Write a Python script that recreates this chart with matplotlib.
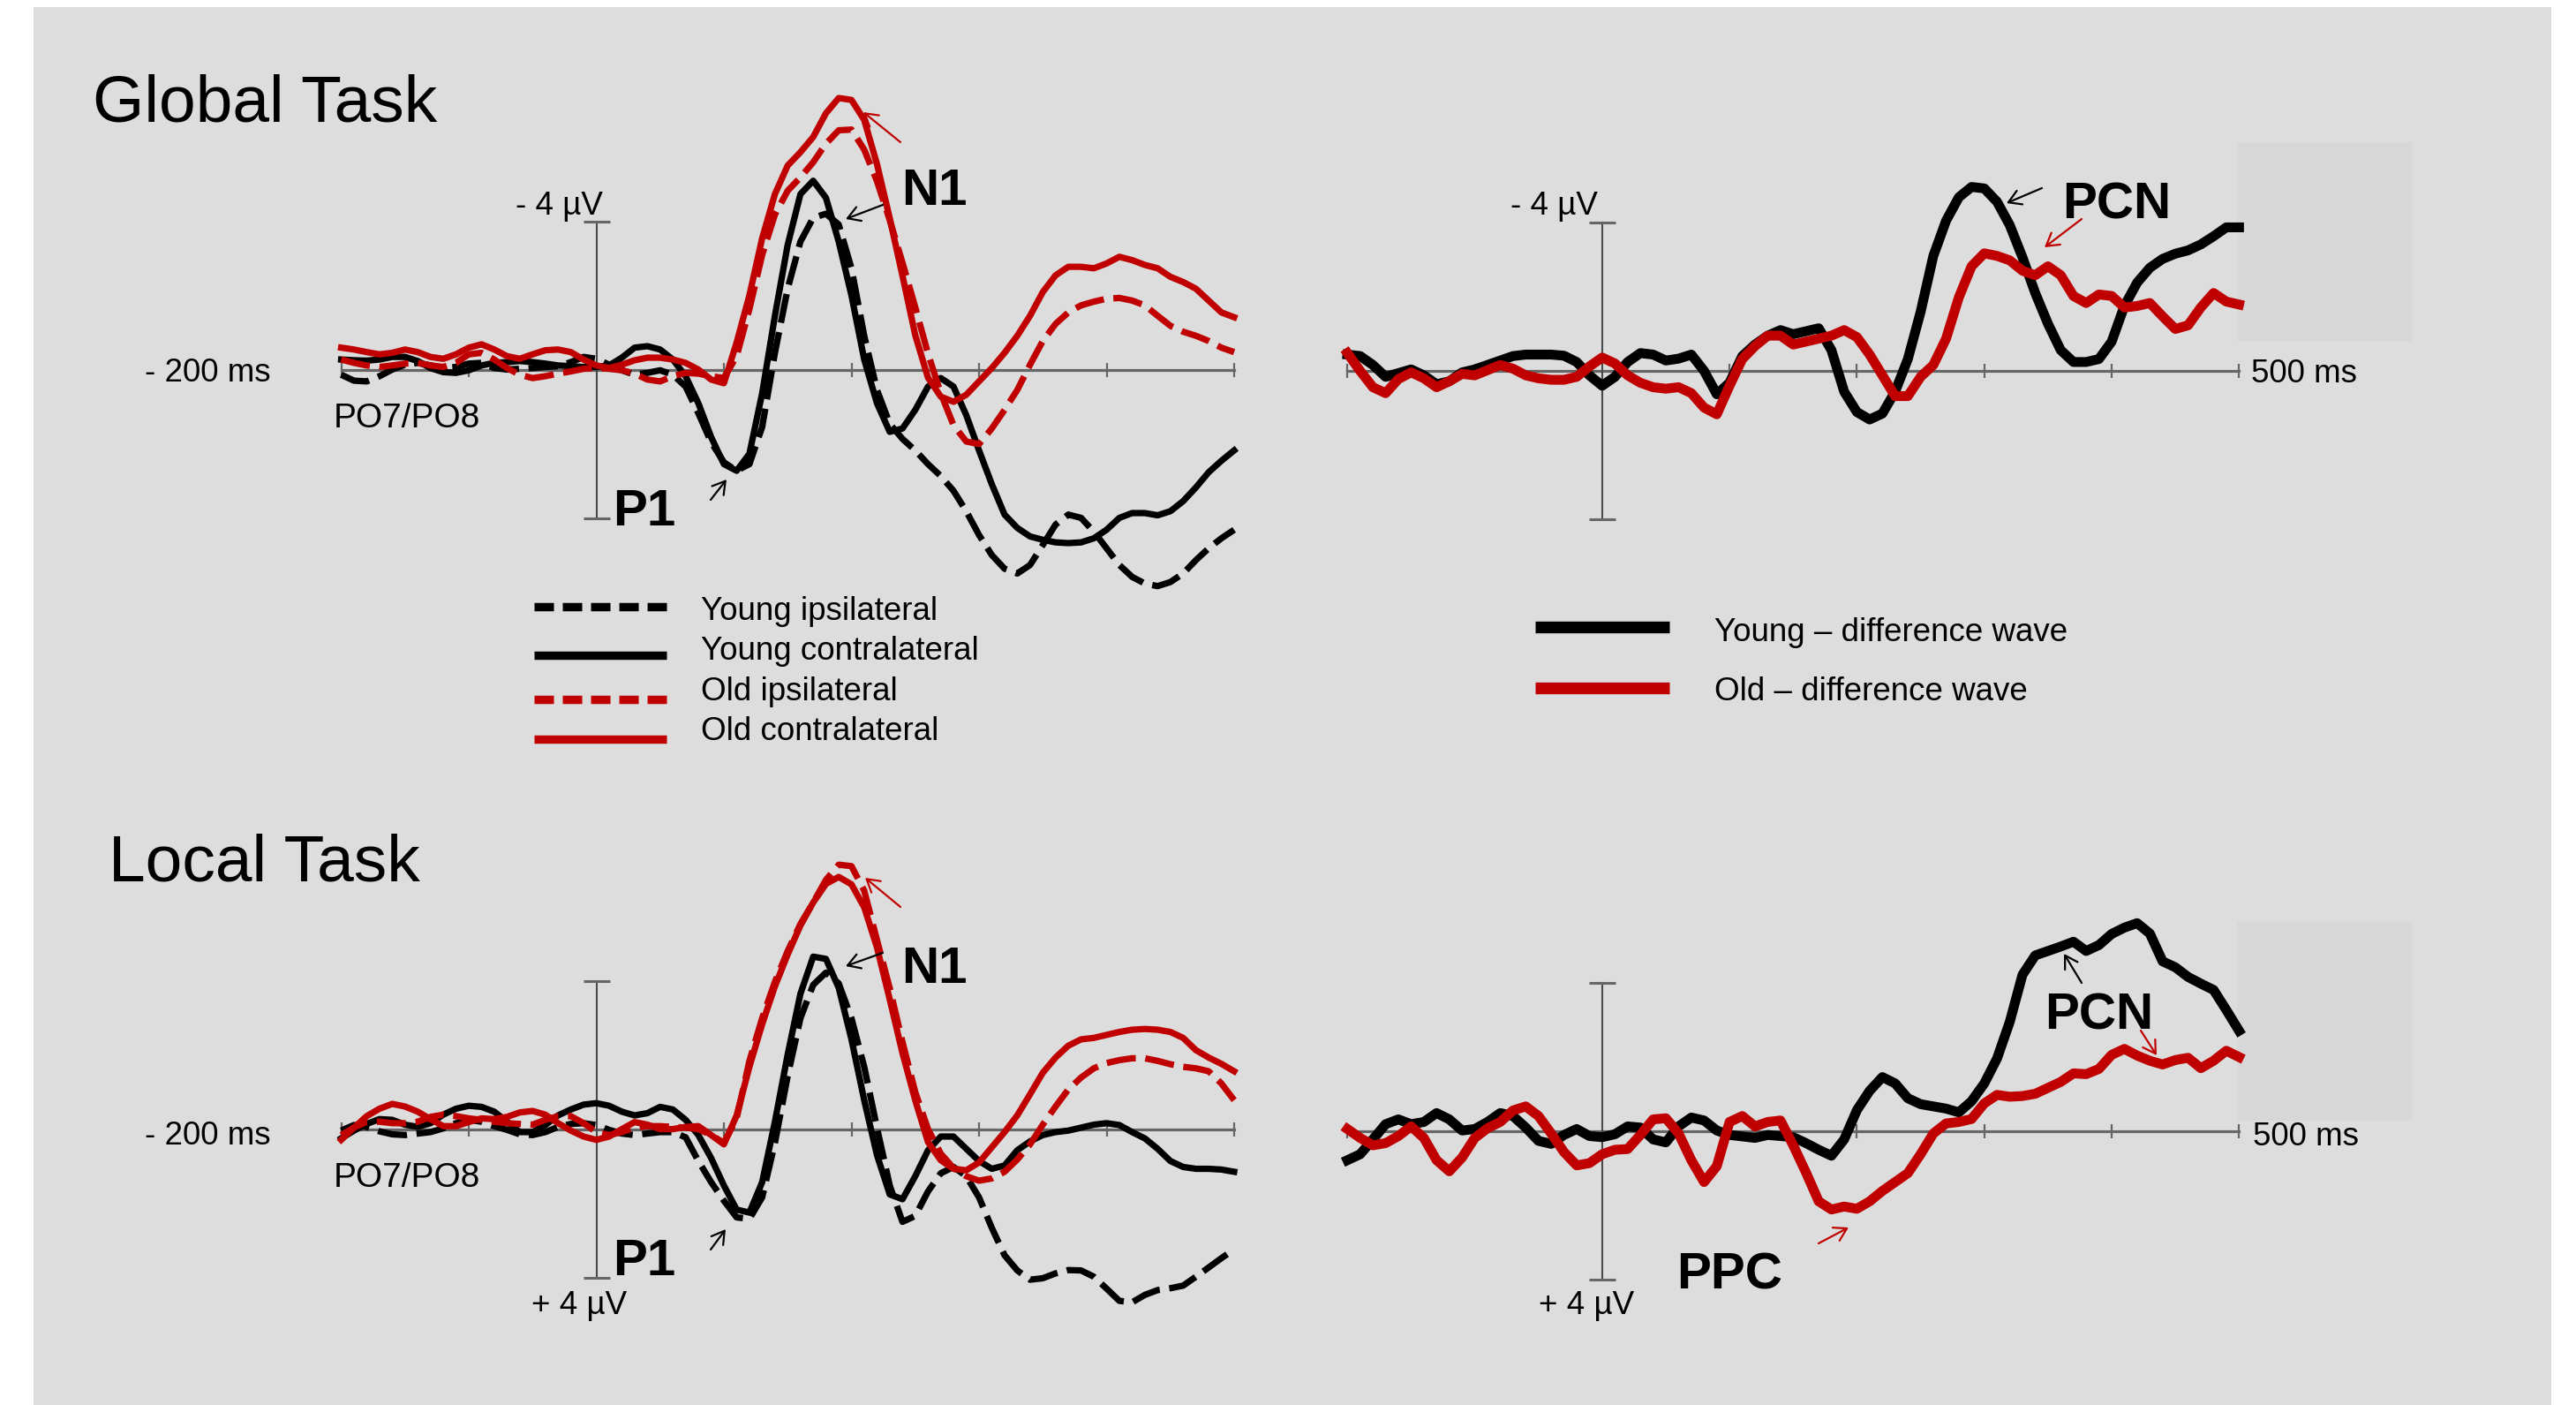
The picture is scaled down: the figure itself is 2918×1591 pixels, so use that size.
import matplotlib
matplotlib.use('Agg')
import matplotlib.pyplot as plt
from matplotlib.patches import Rectangle, FancyArrowPatch
from matplotlib.lines import Line2D

plt.rcParams['font.family'] = ['Liberation Sans', 'DejaVu Sans']

# ---------------- data (µV, negative plotted upward) ----------------
TIME_MS = list(range(-200, 501, 10))

# Global task, PO7/PO8
GLOBAL_YOUNG_IPSI = [
    0.12, 0.28, 0.30, 0.16, -0.02, -0.15, -0.20, -0.13, -0.06, -0.09,
    -0.18, -0.20, -0.06, -0.02, -0.04, -0.06, -0.09, -0.11, -0.22, -0.36,
    -0.31, -0.15, 0.00, 0.12, 0.07, 0.00, 0.12, 0.44, 1.16, 1.94,
    2.48, 2.71, 2.53, 1.53, -0.47, -2.20, -3.47, -4.11, -4.22, -3.93,
    -2.75, -0.93, 0.53, 1.44, 1.85, 2.16, 2.53, 2.85, 3.25, 3.80,
    4.44, 4.98, 5.35, 5.48, 5.25, 4.71, 4.16, 3.89, 3.98, 4.35,
    4.80, 5.25, 5.57, 5.75, 5.82, 5.71, 5.48, 5.12, 4.80, 4.53,
    4.30]
GLOBAL_YOUNG_CONTRA = [
    -0.29, -0.27, -0.26, -0.29, -0.36, -0.36, -0.25, -0.06, 0.05, 0.07,
    0.00, -0.13, -0.20, -0.22, -0.25, -0.22, -0.18, -0.13, -0.11, -0.09,
    -0.09, -0.13, -0.34, -0.61, -0.65, -0.56, -0.29, 0.16, 0.89, 1.80,
    2.53, 2.71, 2.25, 0.62, -1.47, -3.38, -4.75, -5.11, -4.65, -3.47,
    -2.02, -0.29, 0.89, 1.66, 1.57, 1.07, 0.44, 0.21, 0.44, 1.21,
    2.16, 3.07, 3.89, 4.25, 4.48, 4.57, 4.64, 4.66, 4.64, 4.53,
    4.30, 3.98, 3.85, 3.85, 3.91, 3.80, 3.53, 3.16, 2.75, 2.44,
    2.16]
GLOBAL_OLD_IPSI = [
    -0.29, -0.20, -0.13, -0.09, -0.13, -0.18, -0.20, -0.13, -0.09, -0.20,
    -0.43, -0.47, -0.29, -0.06, 0.12, 0.21, 0.16, 0.09, 0.03, -0.04,
    -0.06, -0.04, 0.00, 0.09, 0.25, 0.30, 0.16, 0.07, 0.09, 0.16,
    0.21, -0.38, -1.65, -3.11, -4.20, -4.84, -5.20, -5.61, -6.11, -6.47,
    -6.49, -5.95, -5.10, -4.05, -2.90, -1.70, -0.45, 0.62, 1.48, 1.92,
    1.99, 1.57, 1.07, 0.53, -0.15, -0.79, -1.25, -1.56, -1.75, -1.85,
    -1.93, -1.95, -1.88, -1.75, -1.47, -1.20, -1.04, -0.93, -0.79, -0.61,
    -0.49]
GLOBAL_OLD_CONTRA = [
    -0.61, -0.56, -0.49, -0.43, -0.47, -0.56, -0.49, -0.36, -0.31, -0.43,
    -0.61, -0.70, -0.56, -0.38, -0.31, -0.43, -0.54, -0.56, -0.49, -0.29,
    -0.13, -0.06, -0.15, -0.27, -0.34, -0.34, -0.29, -0.20, -0.02, 0.25,
    0.35, -0.75, -2.02, -3.56, -4.75, -5.52, -5.88, -6.29, -6.93, -7.34,
    -7.29, -6.75, -5.56, -4.10, -2.55, -0.95, 0.20, 0.71, 0.85, 0.66,
    0.30, -0.06, -0.47, -0.93, -1.47, -2.11, -2.56, -2.79, -2.79, -2.75,
    -2.88, -3.06, -2.97, -2.84, -2.75, -2.52, -2.38, -2.20, -1.88, -1.56,
    -1.43]

# Global task, difference waves
GLOBAL_YOUNG_DIFF = [
    -0.44, -0.40, -0.16, 0.16, 0.06, -0.04, 0.12, 0.36, 0.28, 0.04,
    -0.04, -0.16, -0.28, -0.40, -0.44, -0.44, -0.44, -0.41, -0.24, 0.12,
    0.40, 0.16, -0.24, -0.48, -0.44, -0.28, -0.33, -0.44, 0.00, 0.63,
    0.32, -0.40, -0.71, -0.95, -1.10, -0.99, -1.07, -1.15, -0.56, 0.56,
    1.11, 1.31, 1.15, 0.56, -0.32, -1.59, -3.10, -4.05, -4.68, -4.96,
    -4.92, -4.56, -3.93, -3.06, -2.10, -1.27, -0.56, -0.24, -0.24, -0.32,
    -0.79, -1.75, -2.38, -2.78, -3.02, -3.16, -3.25, -3.41, -3.63, -3.87,
    -3.87]
GLOBAL_OLD_DIFF = [
    -0.48, 0.00, 0.44, 0.60, 0.22, 0.04, 0.20, 0.44, 0.28, 0.08,
    0.12, -0.02, -0.16, -0.06, 0.12, 0.20, 0.24, 0.24, 0.16, -0.12,
    -0.36, -0.20, 0.12, 0.32, 0.44, 0.48, 0.44, 0.60, 0.99, 1.17,
    0.40, -0.32, -0.67, -0.95, -0.95, -0.71, -0.79, -0.87, -0.95, -1.10,
    -0.91, -0.44, 0.12, 0.68, 0.68, 0.16, -0.16, -0.87, -1.98, -2.82,
    -3.17, -3.10, -2.98, -2.70, -2.58, -2.82, -2.58, -2.02, -1.83, -2.06,
    -2.02, -1.71, -1.75, -1.83, -1.47, -1.13, -1.23, -1.71, -2.10, -1.87,
    -1.79]

# Local task, PO7/PO8
LOCAL_YOUNG_IPSI = [
    0.04, -0.11, -0.06, 0.06, 0.14, 0.16, 0.12, 0.08, -0.02, -0.16,
    -0.25, -0.20, -0.08, 0.02, 0.14, 0.16, 0.08, -0.06, -0.14, -0.16,
    -0.11, 0.02, 0.12, 0.16, 0.12, 0.08, 0.08, 0.22, 0.86, 1.43,
    1.93, 2.38, 2.42, 1.84, 0.37, -1.43, -2.99, -3.89, -4.22, -3.93,
    -2.99, -1.68, -0.04, 1.52, 2.50, 2.34, 1.68, 1.19, 1.02, 1.27,
    1.84, 2.66, 3.40, 3.81, 4.06, 4.02, 3.89, 3.80, 3.81, 3.98,
    4.30, 4.63, 4.67, 4.47, 4.34, 4.29, 4.22, 3.98, 3.73, 3.48,
    3.24]
LOCAL_YOUNG_CONTRA = [
    0.25, 0.04, -0.14, -0.27, -0.25, -0.12, -0.06, -0.16, -0.39, -0.55,
    -0.63, -0.60, -0.47, -0.20, 0.08, 0.08, -0.11, -0.37, -0.53, -0.66,
    -0.70, -0.63, -0.47, -0.37, -0.43, -0.60, -0.53, -0.25, 0.16, 0.78,
    1.52, 2.17, 2.25, 1.43, -0.20, -2.01, -3.65, -4.65, -4.59, -3.81,
    -2.42, -0.78, 0.70, 1.76, 1.89, 1.27, 0.57, 0.20, 0.20, 0.53,
    0.86, 1.07, 0.98, 0.57, 0.33, 0.16, 0.08, 0.04, -0.04, -0.12,
    -0.16, -0.11, 0.08, 0.25, 0.53, 0.86, 1.02, 1.07, 1.07, 1.09,
    1.15]
LOCAL_OLD_IPSI = [
    0.16, -0.04, -0.20, -0.20, -0.16, -0.16, -0.20, -0.33, -0.39, -0.35,
    -0.29, -0.25, -0.20, -0.16, -0.14, -0.12, -0.25, -0.35, -0.35, -0.16,
    0.08, 0.16, 0.08, -0.04, -0.08, -0.08, -0.06, -0.04, 0.00, 0.16,
    0.37, -0.29, -1.84, -2.99, -3.97, -4.80, -5.53, -6.11, -6.72, -7.13,
    -7.09, -6.43, -5.10, -3.80, -2.35, -1.00, 0.00, 0.66, 1.05, 1.27,
    1.39, 1.33, 1.15, 0.82, 0.41, -0.12, -0.61, -1.07, -1.39, -1.64,
    -1.78, -1.86, -1.91, -1.91, -1.84, -1.75, -1.68, -1.64, -1.56, -1.23,
    -0.78]
LOCAL_OLD_CONTRA = [
    0.29, -0.04, -0.35, -0.55, -0.68, -0.61, -0.47, -0.27, -0.08, -0.08,
    -0.19, -0.29, -0.27, -0.33, -0.45, -0.49, -0.39, -0.16, 0.04, 0.20,
    0.29, 0.20, 0.00, -0.19, -0.12, 0.00, 0.00, -0.06, -0.08, 0.16,
    0.41, -0.37, -1.68, -2.83, -3.85, -4.71, -5.49, -6.11, -6.61, -6.80,
    -6.60, -5.98, -4.90, -3.50, -2.05, -0.78, 0.35, 0.84, 1.07, 1.11,
    0.90, 0.49, 0.08, -0.37, -0.94, -1.52, -1.93, -2.25, -2.42, -2.46,
    -2.54, -2.62, -2.68, -2.70, -2.68, -2.62, -2.46, -2.13, -1.93, -1.76,
    -1.56]

# Local task, difference waves
LOCAL_YOUNG_DIFF = [
    0.78, 0.62, 0.22, -0.19, -0.32, -0.19, -0.25, -0.49, -0.32, -0.02,
    -0.06, -0.25, -0.49, -0.41, -0.10, 0.26, 0.34, 0.10, -0.06, 0.13,
    0.16, 0.08, -0.13, -0.10, 0.22, 0.30, -0.13, -0.37, -0.29, -0.02,
    0.10, 0.14, 0.18, 0.10, 0.13, 0.16, 0.32, 0.50, 0.66, 0.22,
    -0.57, -1.09, -1.46, -1.29, -0.89, -0.73, -0.67, -0.61, -0.51, -0.81,
    -1.29, -1.96, -2.95, -4.22, -4.74, -4.86, -4.98, -5.11, -4.86, -5.02,
    -5.32, -5.49, -5.61, -5.33, -4.58, -4.42, -4.16, -3.98, -3.81, -3.27,
    -2.71]
LOCAL_OLD_DIFF = [
    -0.06, 0.18, 0.38, 0.32, 0.13, -0.13, 0.18, 0.78, 1.08, 0.71,
    0.18, -0.08, -0.25, -0.56, -0.67, -0.41, 0.06, 0.56, 0.92, 0.86,
    0.62, 0.50, 0.48, 0.10, -0.32, -0.35, 0.06, 0.78, 1.37, 0.94,
    -0.25, -0.41, -0.13, -0.25, -0.29, 0.38, 1.11, 1.89, 2.11, 2.03,
    2.09, 1.89, 1.61, 1.37, 1.13, 0.62, 0.06, -0.21, -0.25, -0.33,
    -0.75, -0.98, -0.93, -0.95, -1.01, -1.17, -1.33, -1.56, -1.54, -1.68,
    -2.06, -2.22, -2.04, -1.90, -1.80, -1.92, -1.98, -1.70, -1.90, -2.17,
    -2.00]

TICKS_MS = [-200, -100, 100, 200, 300, 400, 500]
SCALE_UV = [-4, 4]

LEGEND_LEFT = ['Young ipsilateral', 'Young contralateral', 'Old ipsilateral', 'Old contralateral']
LEGEND_RIGHT = ['Young \u2013 difference wave', 'Old \u2013 difference wave']

# ---------------- styling ----------------
W, H = 2918, 1591
BG = '#dddddd'
BOX = '#d8d8d8'
RED = '#c00000'
BLACK = '#000000'
AXIS_C = '#666666'
BAR_C = '#4a4a4a'
K = 42.0            # pixels per µV
LW_L = 5.2
LW_R = 8.0
DASH = (0, (4.6, 1.5))

fig = plt.figure(figsize=(W / 100, H / 100), dpi=100, facecolor='white')


def fx(x):
    return x / W


def fy(y):
    return 1 - y / H


def rect(x0, y0, x1, y1, color, z):
    fig.add_artist(Rectangle((fx(x0), fy(y1)), fx(x1) - fx(x0), fy(y0) - fy(y1),
                             transform=fig.transFigure, facecolor=color,
                             edgecolor='none', zorder=z))


rect(38, 8, 2890, 1591, BG, -2)
rect(2534, 161, 2732, 387, BOX, -1)
rect(2534, 1044, 2732, 1269, BOX, -1)


def make_panel(left, right, base, span=360):
    top, bottom = base - span, base + span
    ax = fig.add_axes([fx(left), fy(bottom), fx(right) - fx(left), fy(top) - fy(bottom)])
    ax.set_xlim(-200, 500)
    ax.set_ylim(span / K, -span / K)
    ax.axis('off')
    ax.patch.set_alpha(0)
    ax.plot([-200, 500], [0, 0], color=AXIS_C, lw=2.3, zorder=1, clip_on=False)
    ax.plot(TICKS_MS, [0] * len(TICKS_MS), ls='none', marker='|', ms=11.5, mew=1.6,
            color=AXIS_C, zorder=1, clip_on=False)
    ax.plot([0, 0], SCALE_UV, color=BAR_C, lw=1.5, zorder=1, clip_on=False)
    ax.plot([0, 0], SCALE_UV, ls='none', marker='_', ms=22, mew=2.2, color=AXIS_C,
            zorder=1, clip_on=False)
    return ax


ax_tl = make_panel(386.5, 1398.0, 419.3)
ax_tr = make_panel(1526.3, 2536.3, 420.0)
ax_bl = make_panel(386.5, 1398.0, 1278.6)
ax_br = make_panel(1526.3, 2536.3, 1281.0)

for ax, yi, yc, oi, oc in ((ax_tl, GLOBAL_YOUNG_IPSI, GLOBAL_YOUNG_CONTRA, GLOBAL_OLD_IPSI, GLOBAL_OLD_CONTRA),
                           (ax_bl, LOCAL_YOUNG_IPSI, LOCAL_YOUNG_CONTRA, LOCAL_OLD_IPSI, LOCAL_OLD_CONTRA)):
    ax.plot(TIME_MS, yi, color=BLACK, lw=LW_L, ls=DASH, zorder=3, clip_on=False)
    ax.plot(TIME_MS, yc, color=BLACK, lw=LW_L, zorder=3, clip_on=False,
            solid_joinstyle='round')
    ax.plot(TIME_MS, oi, color=RED, lw=LW_L, ls=DASH, zorder=4, clip_on=False)
    ax.plot(TIME_MS, oc, color=RED, lw=LW_L, zorder=4, clip_on=False,
            solid_joinstyle='round')

for ax, yd, od in ((ax_tr, GLOBAL_YOUNG_DIFF, GLOBAL_OLD_DIFF),
                   (ax_br, LOCAL_YOUNG_DIFF, LOCAL_OLD_DIFF)):
    ax.plot(TIME_MS, yd, color=BLACK, lw=LW_R, zorder=3, clip_on=False,
            solid_joinstyle='round')
    ax.plot(TIME_MS, od, color=RED, lw=LW_R, zorder=4, clip_on=False,
            solid_joinstyle='round')


# ---------------- texts ----------------
def txt(x, y, s, size, ha='left', weight='normal'):
    fig.text(fx(x), fy(y), s, fontsize=size, ha=ha, va='baseline',
             fontweight=weight, color='black')


txt(105, 137, 'Global Task', 54)
txt(123, 997, 'Local Task', 54)

SMALL = 26.5
txt(683, 243, '- 4 \u00b5V', SMALL, ha='right')
txt(1810, 243, '- 4 \u00b5V', SMALL, ha='right')
txt(602, 1488, '+ 4 \u00b5V', SMALL)
txt(1743, 1488, '+ 4 \u00b5V', SMALL)
txt(307, 432, '- 200 ms', SMALL, ha='right')
txt(307, 1296, '- 200 ms', SMALL, ha='right')
txt(2550, 433, '500 ms', SMALL)
txt(2552, 1297, '500 ms', SMALL)
txt(378, 484, 'PO7/PO8', 28)
txt(378, 1344, 'PO7/PO8', 28)

BIG = 42
txt(694, 595, 'P1', BIG, weight='bold')
txt(694, 1444, 'P1', BIG, weight='bold')
txt(1021, 232, 'N1', BIG, weight='bold')
txt(1021, 1113, 'N1', BIG, weight='bold')
txt(2336, 248, 'PCN', BIG, weight='bold')
txt(2316, 1165, 'PCN', BIG, weight='bold')
txt(1899, 1460, 'PPC', BIG, weight='bold')


# ---------------- arrows ----------------
def arrow(tail, head, color):
    fig.add_artist(FancyArrowPatch((fx(tail[0]), fy(tail[1])), (fx(head[0]), fy(head[1])),
                                   transform=fig.transFigure,
                                   arrowstyle='->,head_length=0.5,head_width=0.3',
                                   mutation_scale=20, lw=1.6, color=color,
                                   shrinkA=0, shrinkB=0, zorder=5))


arrow((1020, 161), (978, 127), RED)
arrow((1000, 232), (958, 248), BLACK)
arrow((805, 566), (823, 543), BLACK)
arrow((1020, 1027), (980, 994), RED)
arrow((1000, 1079), (958, 1094), BLACK)
arrow((805, 1415), (822, 1392), BLACK)
arrow((2313, 213), (2273, 230), BLACK)
arrow((2358, 248), (2316, 280), RED)
arrow((2358, 1113), (2338, 1080), BLACK)
arrow((2425, 1167), (2443, 1195), RED)
arrow((2060, 1408), (2094, 1390), RED)

# ---------------- legends ----------------
LEFT_ROWS_Y = [686.7, 742.0, 792.0, 836.5]
LEFT_TEXT_Y = [701.7, 747.3, 792.7, 837.7]
LEFT_STYLE = [(BLACK, (0, (2.33, 1.06))), (BLACK, '-'), (RED, (0, (2.33, 1.06))), (RED, '-')]
for label, ly, ty, (c, ls) in zip(LEGEND_LEFT, LEFT_ROWS_Y, LEFT_TEXT_Y, LEFT_STYLE):
    fig.add_artist(Line2D([fx(604.5), fx(754.7)], [fy(ly), fy(ly)], transform=fig.transFigure,
                          color=c, lw=6.8, ls=ls, solid_capstyle='butt', dash_capstyle='butt'))
    txt(794, ty, label, SMALL)

RIGHT_ROWS_Y = [709.5, 779.0]
RIGHT_TEXT_Y = [726.0, 792.7]
for label, ly, ty, c in zip(LEGEND_RIGHT, RIGHT_ROWS_Y, RIGHT_TEXT_Y, [BLACK, RED]):
    fig.add_artist(Line2D([fx(1739), fx(1891)], [fy(ly), fy(ly)], transform=fig.transFigure,
                          color=c, lw=9.6, solid_capstyle='butt'))
    txt(1942, ty, label, SMALL)

fig.savefig('out.png', dpi=100, facecolor='white')
